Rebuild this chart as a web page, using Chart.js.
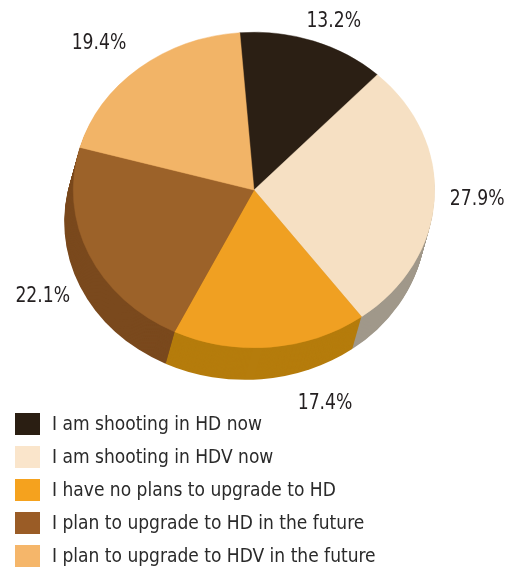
<!DOCTYPE html>
<html>
<head>
<meta charset="utf-8">
<title>HD adoption survey</title>
<script src="https://cdn.jsdelivr.net/npm/chart.js@4"></script>
<style>
  html, body { margin: 0; padding: 0; background: #fff; }
  canvas { display: block; }
</style>
</head>
<body>
<canvas id="pie" width="516" height="573"></canvas>
<script>
// Survey answers, in clockwise order from the top of the pie
const categories = [
  'I am shooting in HD now',
  'I am shooting in HDV now',
  'I have no plans to upgrade to HD',
  'I plan to upgrade to HD in the future',
  'I plan to upgrade to HDV in the future'
];
const shares = [13.2, 27.9, 17.4, 22.1, 19.4];
const shareLabels = shares.map(v => v.toFixed(1) + '%');

// Colours: top face, extruded side, legend swatch
const topColors    = ['#2b1f14', '#f6e0c3', '#f0a022', '#9c6229', '#f2b467'];
const sideColors   = ['#1c140c', '#a0988a', '#b57c0c', '#7a491d', '#c48a40'];
const legendColors = ['#2a1e12', '#fae5cb', '#f5a21e', '#9a5c26', '#f5b66a'];

// Disc geometry: vertical squash, thickness and sideways lean of the rim
const TILT = 0.873;
const DEPTH = 32;
const LEAN = -9;

// Per-label fine placement (px) around the default outside position
const labelNudge = [[7, 13], [3, -3], [51, -10], [-10, 15], [-15, 2]];

const LABEL_FONT = '22px "DejaVu Sans Condensed", "DejaVu Sans", sans-serif';
const LABEL_NARROW = 0.87;   // horizontal compression of the percentage labels
const LEGEND_FONT = '19px "DejaVu Sans Condensed", "DejaVu Sans", sans-serif';

function wedge(ctx, a, ox, oy) {
  ctx.beginPath();
  ctx.moveTo(a.x + ox, a.y + oy);
  ctx.arc(a.x + ox, a.y + oy, a.outerRadius, a.startAngle, a.endAngle);
  ctx.closePath();
}

const discPlugin = {
  id: 'disc3d',
  beforeDatasetsDraw(chart) {
    const ctx = chart.ctx;
    const arcs = chart.getDatasetMeta(0).data;
    const cx = arcs[0].x, cy = arcs[0].y;
    ctx.save();
    // squash everything drawn for the dataset into an ellipse
    ctx.translate(cx, cy);
    ctx.scale(1, TILT);
    ctx.translate(-cx, -cy);
    // rim: stack of darker copies, deepest first
    for (let i = DEPTH; i >= 1; i--) {
      const ox = LEAN * i / DEPTH;
      const oy = i / TILT;
      arcs.forEach((a, k) => {
        wedge(ctx, a, ox, oy);
        ctx.fillStyle = sideColors[k];
        ctx.fill();
      });
    }
  },
  afterDatasetsDraw(chart) {
    chart.ctx.restore();
  },
  afterDraw(chart) {
    const ctx = chart.ctx;
    const arcs = chart.getDatasetMeta(0).data;
    ctx.save();
    // percentage labels outside each slice
    ctx.font = LABEL_FONT;
    ctx.fillStyle = '#231f20';
    ctx.textAlign = 'center';
    ctx.textBaseline = 'middle';
    arcs.forEach((a, k) => {
      const mid = (a.startAngle + a.endAngle) / 2;
      const r = a.outerRadius * 1.22;
      const s = Math.sin(mid);
      const px = a.x + r * Math.cos(mid) + labelNudge[k][0];
      const py = a.y + r * s * TILT + DEPTH * Math.max(0, s) + labelNudge[k][1];
      ctx.save();
      ctx.translate(px, py);
      ctx.scale(LABEL_NARROW, 1);
      ctx.fillText(shareLabels[k], 0, 0);
      ctx.restore();
    });
    // stacked legend below the pie
    const labels = chart.data.labels;
    ctx.font = LEGEND_FONT;
    ctx.textAlign = 'left';
    labels.forEach((txt, k) => {
      const rowY = 424 + 33 * k;
      ctx.fillStyle = legendColors[k];
      ctx.fillRect(15, rowY - 11, 25, 22);
      ctx.fillStyle = '#2a2a2a';
      ctx.fillText(txt, 52, rowY + 1);
    });
    ctx.restore();
  }
};

new Chart(document.getElementById('pie'), {
  type: 'pie',
  data: {
    labels: categories,
    datasets: [{
      data: shares,
      backgroundColor: topColors,
      borderColor: topColors,
      borderWidth: 0.5,
      clip: false
    }]
  },
  options: {
    responsive: false,
    animation: false,
    rotation: -4.5,
    layout: { padding: { left: 73, right: 81, top: 9, bottom: 202 } },
    plugins: {
      legend: { display: false },
      tooltip: { enabled: false }
    }
  },
  plugins: [discPlugin]
});
</script>
</body>
</html>
